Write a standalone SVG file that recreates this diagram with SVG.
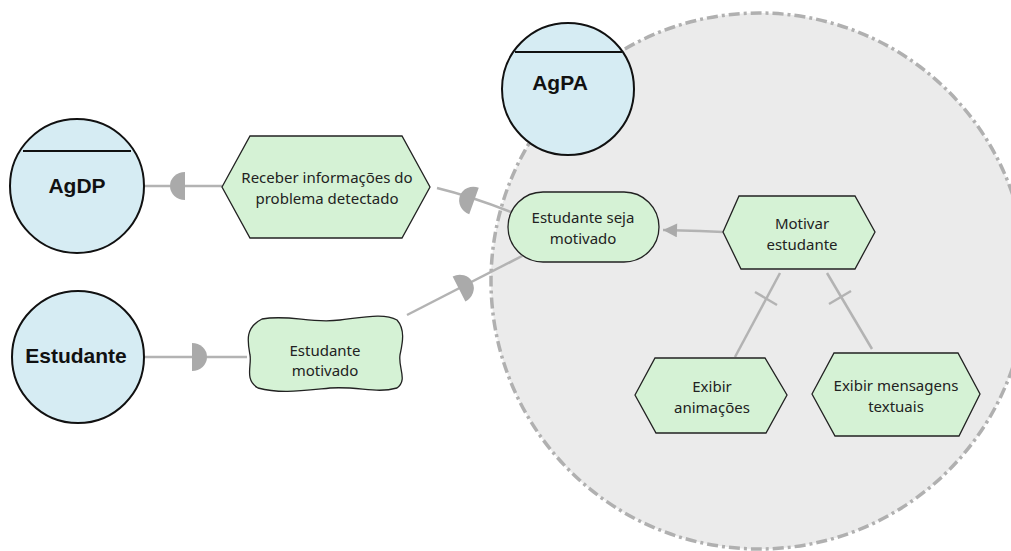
<svg xmlns="http://www.w3.org/2000/svg" width="1011" height="551" viewBox="0 0 1011 551">
  <style>
    .agent { fill: #d6ecf3; stroke: #111; stroke-width: 2; }
    .agent-line { stroke: #111; stroke-width: 2; }
    .agent-label { font-family: "Liberation Sans", Arial, sans-serif; font-weight: bold; font-size: 21px; fill: #111; text-anchor: middle; }
    .elem { fill: #d5f2d5; stroke: #222; stroke-width: 1.3; }
    .label { font-family: "Noto Sans", "DejaVu Sans", sans-serif; font-size: 15px; fill: #222; text-anchor: middle; }
    .link { fill: none; stroke: #b3b3b3; stroke-width: 2.5; }
    .dep { fill: #aaaaaa; }
    .boundary { fill: #ebebeb; stroke: #b0b0b0; stroke-width: 3.5; stroke-dasharray: 11 4 3 4; }
  </style>
  <defs>
    <!-- half-disc "D" used on dependency links -->
    <path id="dmark" d="M0,-14 A15,14 0 0,1 0,14 Z"/>
    <marker id="arrow" viewBox="0 0 10 10" refX="10" refY="5" markerUnits="userSpaceOnUse" markerWidth="21" markerHeight="14" orient="auto">
      <path d="M0,0 L10,5 L0,10 Z" fill="#aaaaaa"/>
    </marker>
  </defs>

  <!-- actor boundary of AgPA -->
  <circle id="agpa-boundary" class="boundary" cx="759" cy="281" r="268"/>

  <g id="connectors">
    <!-- dependency: AgDP / Receber informações -->
    <line class="link" x1="145" y1="186" x2="222" y2="186"/>
    <use href="#dmark" class="dep" transform="translate(185,186) rotate(180)"/>
    <!-- dependency: Receber informações / Estudante seja motivado -->
    <path class="link" d="M437,188 Q470,196 511,212"/>
    <use href="#dmark" class="dep" transform="translate(474,201) rotate(200)"/>
    <!-- dependency: Estudante / Estudante motivado -->
    <line class="link" x1="144" y1="357" x2="247" y2="357"/>
    <use href="#dmark" class="dep" transform="translate(192,357)"/>
    <!-- dependency: Estudante motivado / Estudante seja motivado -->
    <line class="link" x1="407" y1="315" x2="526" y2="254"/>
    <use href="#dmark" class="dep" transform="translate(459,289) rotate(-27)"/>
    <!-- means-end: Motivar estudante -> Estudante seja motivado -->
    <path class="link" d="M723,232 L700,231 L663,230" marker-end="url(#arrow)"/>
    <!-- task decompositions -->
    <line class="link" x1="780" y1="273" x2="735" y2="357"/>
    <line class="link" x1="755" y1="292" x2="777" y2="305"/>
    <line class="link" x1="827" y1="273" x2="872" y2="349"/>
    <line class="link" x1="829" y1="304" x2="851" y2="291"/>
  </g>

  <g id="agpa">
    <circle class="agent" cx="568" cy="89" r="66"/>
    <line class="agent-line" x1="515" y1="52" x2="622" y2="52"/>
    <text class="agent-label" x="560" y="90">AgPA</text>
  </g>

  <g id="agdp">
    <circle class="agent" cx="77" cy="186" r="67"/>
    <line class="agent-line" x1="23" y1="151" x2="131" y2="151"/>
    <text class="agent-label" x="77" y="193">AgDP</text>
  </g>

  <g id="estudante">
    <circle class="agent" cx="78" cy="357" r="66"/>
    <text class="agent-label" x="76" y="363">Estudante</text>
  </g>

  <g id="receber-informacoes">
    <polygon class="elem" points="222,187 250,136 402,136 430,187 402,238 250,238"/>
    <text class="label" x="327" y="183">Receber informações do</text>
    <text class="label" x="327" y="204">problema detectado</text>
  </g>

  <g id="estudante-motivado">
    <path class="elem" d="M262,319 C290,314 310,324 340,320 C365,317 385,313 397,320 C406,330 402,345 400,355 C398,368 408,380 397,388 C375,394 360,386 330,388 C300,391 280,394 258,388 C244,380 252,365 250,355 C248,343 244,328 262,319 Z"/>
    <text class="label" x="325" y="356">Estudante</text>
    <text class="label" x="325" y="376">motivado</text>
  </g>

  <g id="estudante-seja-motivado">
    <rect class="elem" x="508" y="192" width="151" height="70" rx="35" ry="35"/>
    <text class="label" x="583" y="223">Estudante seja</text>
    <text class="label" x="583" y="244">motivado</text>
  </g>

  <g id="motivar-estudante">
    <polygon class="elem" points="723,232 739,196 855,196 875,232 855,269 741,269"/>
    <text class="label" x="802" y="229">Motivar</text>
    <text class="label" x="802" y="250">estudante</text>
  </g>

  <g id="exibir-animacoes">
    <polygon class="elem" points="635,395 655,358 765,358 787,395 766,433 656,433"/>
    <text class="label" x="712" y="392">Exibir</text>
    <text class="label" x="712" y="413">animações</text>
  </g>

  <g id="exibir-mensagens">
    <polygon class="elem" points="812,394 834,353 958,353 980,394 959,436 835,436"/>
    <text class="label" x="896" y="391">Exibir mensagens</text>
    <text class="label" x="896" y="412">textuais</text>
  </g>
</svg>
